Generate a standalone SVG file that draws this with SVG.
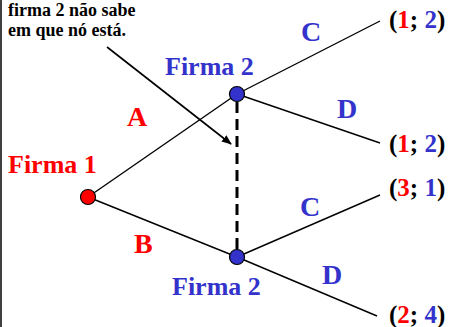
<svg xmlns="http://www.w3.org/2000/svg" width="451" height="327" viewBox="0 0 451 327">
<style>
  text { font-family: "Liberation Serif", "Times New Roman", serif; font-weight: bold; }
  .red { fill: #FF0000; }
  .blue { fill: #3333CC; }
  .blk { fill: #000000; }
  .edge { stroke: #000; stroke-width: 1.4; fill: none; }
  .lbl { font-size: 28px; }
  .firm { font-size: 26px; }
  .pay { font-size: 25px; }
  .note { font-size: 18px; }
</style>
<defs>
  <marker id="ah" markerWidth="10" markerHeight="8" refX="9" refY="4" orient="auto" markerUnits="userSpaceOnUse">
    <path d="M0,0 L10,4 L0,8 Z" fill="#000"/>
  </marker>
</defs>
<rect x="0" y="0" width="451" height="327" fill="#fff"/>
<line x1="1" y1="0" x2="1" y2="327" stroke="#000" stroke-width="1.5"/>
<g id="connectors">
  <line class="edge" x1="88" y1="197" x2="237" y2="94"/>
  <line class="edge" x1="88" y1="197" x2="237" y2="257"/>
  <line class="edge" x1="237" y1="94" x2="380" y2="21"/>
  <line class="edge" x1="237" y1="94" x2="380" y2="143"/>
  <line class="edge" x1="237" y1="257" x2="380" y2="195"/>
  <line class="edge" x1="237" y1="257" x2="377" y2="316"/>
  <line x1="237" y1="102" x2="237" y2="250" stroke="#000" stroke-width="3" stroke-dasharray="11,6"/>
  <line x1="107" y1="47" x2="231" y2="144" stroke="#000" stroke-width="1.6" marker-end="url(#ah)"/>
</g>
<g id="note">
  <text class="blk note" x="8" y="16">firma 2 não sabe</text>
  <text class="blk note" x="8" y="36">em que nó está.</text>
</g>
<g id="firma1">
  <circle cx="88" cy="197" r="7.5" fill="#FF0000" stroke="#000" stroke-width="1.2"/>
  <text class="red firm" x="8" y="173">Firma 1</text>
</g>
<g id="firma2-top">
  <circle cx="237" cy="94" r="7.5" fill="#3333CC" stroke="#000" stroke-width="1.2"/>
  <text class="blue firm" x="165" y="75">Firma 2</text>
</g>
<g id="firma2-bottom">
  <circle cx="237" cy="257" r="7.5" fill="#3333CC" stroke="#000" stroke-width="1.2"/>
  <text class="blue firm" x="172" y="295">Firma 2</text>
</g>
<g id="labels">
  <text class="red lbl" x="127" y="126">A</text>
  <text class="red lbl" x="134" y="253">B</text>
  <text class="blue lbl" x="301" y="41">C</text>
  <text class="blue lbl" x="337" y="118">D</text>
  <text class="blue lbl" x="300" y="216">C</text>
  <text class="blue lbl" x="322" y="284">D</text>
</g>
<g id="payoffs">
  <text class="pay blk" x="389" y="28">(<tspan class="red">1</tspan>; <tspan class="blue">2</tspan>)</text>
  <text class="pay blk" x="389" y="152">(<tspan class="red">1</tspan>; <tspan class="blue">2</tspan>)</text>
  <text class="pay blk" x="389" y="196">(<tspan class="red">3</tspan>; <tspan class="blue">1</tspan>)</text>
  <text class="pay blk" x="389" y="323">(<tspan class="red">2</tspan>; <tspan class="blue">4</tspan>)</text>
</g>
</svg>
